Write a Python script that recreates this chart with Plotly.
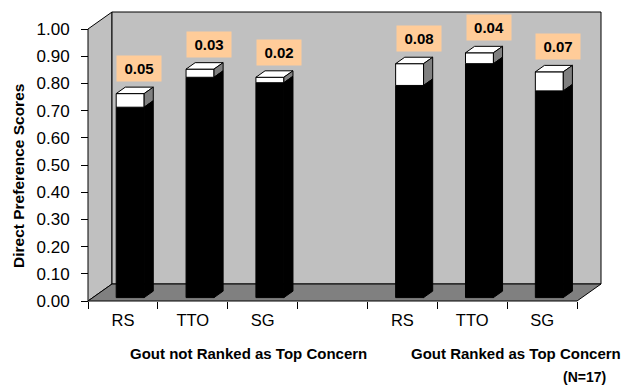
import plotly.graph_objects as go

# ---- data -------------------------------------------------------------
x_labels = ["RS", "TTO", "SG", "", "RS", "TTO", "SG"]
mean_scores = [0.70, 0.81, 0.79, None, 0.78, 0.86, 0.76]
spread = [0.05, 0.03, 0.02, None, 0.08, 0.04, 0.07]
group_labels = ["Gout not Ranked as Top Concern", "Gout Ranked as Top Concern"]
group_note = "(N=17)"
y_ticks = [0.0, 0.1, 0.2, 0.3, 0.4, 0.5, 0.6, 0.7, 0.8, 0.9, 1.0]
y_title = "Direct Preference Scores"

# ---- page geometry ----------------------------------------------------
FONT = "Arial, 'Liberation Sans', Helvetica, sans-serif"
W, H = 621, 387
L, R, T, B = 70, 10, 5, 70
pw, ph = W - L - R, H - T - B

# front plane of the 3-D box (pixels)
front_left, front_right = 88, 577
front_base, front_top = 301, 29
n = len(x_labels)
ux = (front_right - front_left) / n        # px per category slot
uy = front_base - front_top                 # px per 1.0 on the value axis

xr0 = -0.5 - (front_left - L) / ux
xr1 = xr0 + pw / ux
yr0 = -((H - B) - front_base) / uy
yr1 = yr0 + ph / uy

# depth of the box and of the bars, in data units
dx, dy = 24 / ux, 17 / uy
f0, f1 = 0.2, 0.58          # bar front / back as a fraction of box depth
bw = 0.40                   # bar width (slots)
shift = 0.035               # small sideways nudge of the bars

WALL = "#C0C0C0"
FLOOR = "#808080"
SIDE = "#808080"
LABEL_BG = "#FFCC99"


def paper(xp, yp):
    return (xp - L) / pw, ((H - B) - yp) / ph


xa, xb = -0.5, n - 0.5
shapes = [
    # side wall
    dict(type="path", layer="below", xref="x", yref="y",
         path=f"M{xa},0 L{xa},1 L{xa + dx},{1 + dy} L{xa + dx},{dy} Z",
         fillcolor=WALL, line=dict(color="black", width=1)),
    # back wall
    dict(type="rect", layer="below", xref="x", yref="y",
         x0=xa + dx, x1=xb + dx, y0=dy, y1=1 + dy,
         fillcolor=WALL, line=dict(color="black", width=1)),
    # floor
    dict(type="path", layer="below", xref="x", yref="y",
         path=f"M{xa},0 L{xb},0 L{xb + dx},{dy} L{xa + dx},{dy} Z",
         fillcolor=FLOOR, line=dict(color="black", width=1)),
]

bx, by_mean, by_spread, base_black, base_white = [], [], [], [], []
annotations = []
b0 = f0 * dy
ddx, ddy = (f1 - f0) * dx, (f1 - f0) * dy
for i, (m, s) in enumerate(zip(mean_scores, spread)):
    if m is None:
        continue
    xc = i + shift + f0 * dx
    bx.append(xc)
    by_mean.append(m)
    by_spread.append(s)
    base_black.append(b0)
    base_white.append(b0 + m)

    xl, xr = xc - bw / 2, xc + bw / 2
    top = b0 + m + s
    mid = b0 + m
    # top face
    shapes.append(dict(type="path", layer="above", xref="x", yref="y",
                       path=f"M{xl},{top} L{xr},{top} L{xr + ddx},{top + ddy} L{xl + ddx},{top + ddy} Z",
                       fillcolor="white", line=dict(color="black", width=1)))
    # side of the upper (white) segment
    shapes.append(dict(type="path", layer="above", xref="x", yref="y",
                       path=f"M{xr},{top} L{xr + ddx},{top + ddy} L{xr + ddx},{mid + ddy} L{xr},{mid} Z",
                       fillcolor=SIDE, line=dict(color="black", width=1)))
    # side of the lower (black) segment
    shapes.append(dict(type="path", layer="above", xref="x", yref="y",
                       path=f"M{xr},{mid} L{xr + ddx},{mid + ddy} L{xr + ddx},{b0 + ddy} L{xr},{b0} Z",
                       fillcolor="black", line=dict(color="black", width=1)))
    # value label
    annotations.append(dict(
        xref="x", yref="y", x=xc + ddx, y=top + ddy, yshift=18.5,
        text=f"<b>{s:.2f}</b>", showarrow=False,
        xanchor="center", yanchor="middle",
        width=44, height=25, borderpad=0, bgcolor=LABEL_BG,
        font=dict(family=FONT, size=15, color="black")))

fig = go.Figure()
fig.add_trace(go.Bar(x=bx, y=by_mean, base=base_black, width=bw,
                     marker=dict(color="black", line=dict(color="black", width=1)),
                     hoverinfo="skip", showlegend=False))
fig.add_trace(go.Bar(x=bx, y=by_spread, base=base_white, width=bw,
                     marker=dict(color="white", line=dict(color="black", width=1)),
                     hoverinfo="skip", showlegend=False))

# axis title and group captions
tx, ty = paper(18, 176)
annotations.append(dict(xref="paper", yref="paper", x=tx, y=ty, text=f"<b>{y_title}</b>",
                        textangle=-90, showarrow=False, xanchor="center", yanchor="middle",
                        font=dict(family=FONT, size=15.5, color="black")))
for label, cx in zip(group_labels, [248, 516]):
    gx, gy = paper(cx, 353)
    annotations.append(dict(xref="paper", yref="paper", x=gx, y=gy, text=f"<b>{label}</b>",
                            showarrow=False, xanchor="center", yanchor="middle",
                            font=dict(family=FONT, size=15, color="black")))
nx, ny = paper(584, 377)
annotations.append(dict(xref="paper", yref="paper", x=nx, y=ny, text=f"<b>{group_note}</b>",
                        showarrow=False, xanchor="center", yanchor="middle",
                        font=dict(family=FONT, size=14, color="black")))

tick_idx = [i for i, t in enumerate(x_labels) if t]
fig.update_layout(
    width=W, height=H,
    margin=dict(l=L, r=R, t=T, b=B, pad=0),
    paper_bgcolor="white", plot_bgcolor="rgba(0,0,0,0)",
    barmode="overlay",
    shapes=shapes, annotations=annotations,
    xaxis=dict(range=[xr0, xr1], anchor="free", position=((H - B) - front_base) / ph,
               tickmode="array", tickvals=tick_idx, ticktext=[x_labels[i] for i in tick_idx],
               ticks="", showline=False, showgrid=False, zeroline=False,
               ticklabelstandoff=7,
               tickfont=dict(family=FONT, size=16.5, color="black"),
               minor=dict(tickmode="array", tickvals=[i - 0.5 for i in range(n + 1)],
                          ticks="outside", ticklen=7, tickcolor="black", tickwidth=1,
                          showgrid=False)),
    yaxis=dict(range=[yr0, yr1], anchor="free", position=(front_left - L) / pw,
               tickmode="array", tickvals=y_ticks, ticktext=[f"{v:.2f}" for v in y_ticks],
               ticks="outside", ticklen=7, tickcolor="black", tickwidth=1,
               showline=False, showgrid=False, zeroline=False,
               ticklabelstandoff=8,
               tickfont=dict(family=FONT, size=17, color="black")),
)

fig.write_html("out.html")
